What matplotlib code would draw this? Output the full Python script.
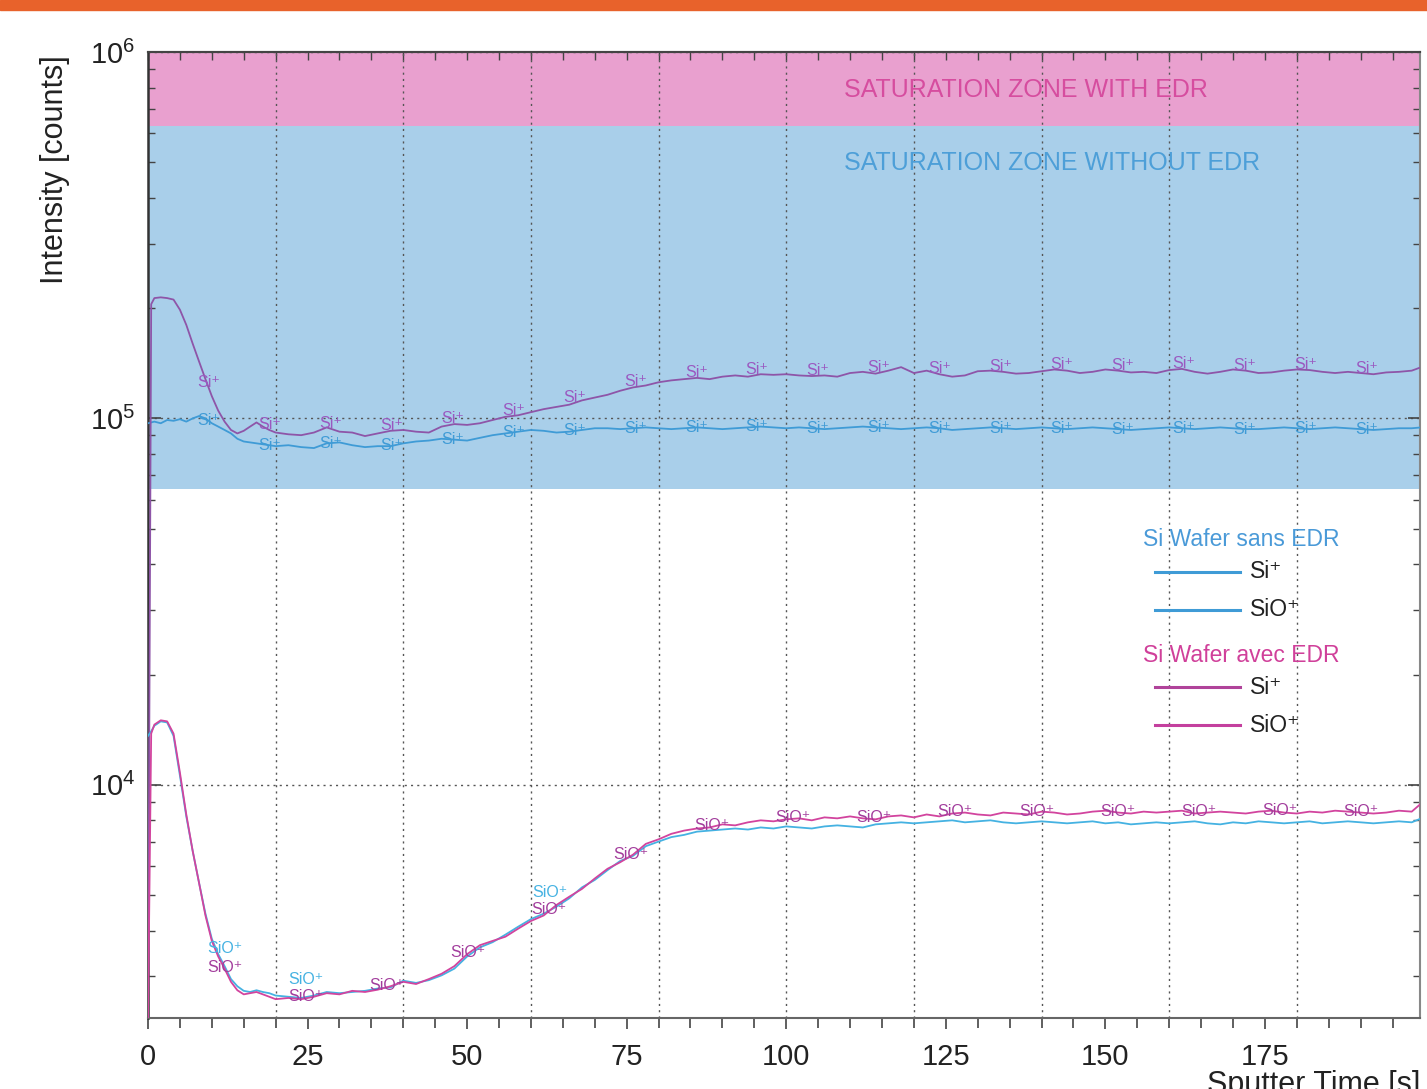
import numpy as np
import matplotlib
matplotlib.use("Agg")
import matplotlib.pyplot as plt
from matplotlib.patches import Rectangle
from matplotlib.lines import Line2D
from matplotlib.ticker import MultipleLocator, LogLocator, NullFormatter

plt.rcParams['font.family'] = ['Liberation Sans', 'DejaVu Sans']
plt.rcParams['mathtext.fontset'] = 'custom'
plt.rcParams['mathtext.rm'] = 'Liberation Sans'
plt.rcParams['mathtext.default'] = 'regular'

# ---- data -------------------------------------------------------------
# sputter time grid [s]
time_s = np.concatenate([[0, 0.5], np.arange(1, 20), np.arange(20, 199, 2), [199.5]])

# Si+ intensity, Si wafer with EDR [kcounts]
si_edr_k = [
    2.3, 205, 213, 214, 213, 211, 198, 180, 160, 143, 128, 115, 105, 98, 93, 91, 92.5, 95, 97.5, 95, 93,
    91.5, 90.5, 90, 91.5, 94.5, 92, 91.5, 89.5, 91, 92.5,
    93, 92, 91.5, 95, 96.5, 96, 97, 99, 101, 102,
    104, 106, 107.5, 109, 112, 114, 116, 119, 121.5, 123,
    125.5, 127, 128, 129, 128, 130, 131, 130, 132, 131.5,
    132, 131, 130.5, 131, 130, 133, 134, 132.5, 135, 138,
    133, 135, 132, 130, 131, 134.5, 135, 134, 132.5, 133,
    134.5, 136, 135, 133, 134, 136, 135, 133.5, 134, 133,
    135.5, 136.5, 134, 132.5, 134, 136, 135, 133, 133.5, 135,
    136, 135.5, 134, 133, 134, 133, 132, 133.5, 134, 135,
    138,
]

# Si+ intensity, Si wafer without EDR [kcounts]
si_noedr_k = [
    97, 97.5, 98, 97, 99, 98.5, 99.5, 98, 100, 101.5, 100, 97, 95, 93, 91, 88, 86.5, 86, 85.5, 85, 84.5,
    84, 84.5, 83.5, 83, 85.5, 86, 84.5, 83.5, 84, 84,
    85.5, 86.5, 87, 88, 87.5, 87, 88.5, 90, 91, 92,
    93, 92.5, 91.5, 92, 93, 94, 94, 93.5, 94, 94.5,
    94, 93.5, 94, 94.5, 94, 93.5, 94, 94.5, 95, 94.5,
    94, 94.5, 94, 93.5, 94, 94.5, 95, 94.5, 94, 93.5,
    94, 94.5, 94, 93, 93.5, 94, 94.5, 94, 93.5, 94,
    94.5, 94, 93.5, 94, 94.5, 94, 93.5, 93, 93.5, 94,
    94.5, 94, 93.5, 94, 94.5, 94, 93.5, 93.5, 94, 94.5,
    94, 93.5, 94, 94.5, 94, 93.5, 93, 93.5, 94, 94,
    94.5,
]

# SiO+ intensity, Si wafer with EDR [kcounts]
sio_edr_k = [
    2.3, 13.8, 14.6, 15.0, 14.9, 13.8, 10.8, 8.3, 6.6, 5.4, 4.4, 3.75, 3.4, 3.15, 2.9, 2.75, 2.68, 2.7, 2.72, 2.68, 2.64,
    2.6, 2.62, 2.6, 2.64, 2.7, 2.68, 2.74, 2.72, 2.76, 2.82,
    2.9, 2.86, 2.95, 3.05, 3.2, 3.45, 3.65, 3.75, 3.85, 4.05,
    4.25, 4.4, 4.7, 4.95, 5.2, 5.55, 5.9, 6.15, 6.45, 6.9,
    7.1, 7.35, 7.5, 7.6, 7.65, 7.8, 7.75, 7.9, 8.0, 7.95,
    8.05, 8.1, 8.0, 8.15, 8.1, 8.2, 8.1, 8.05, 8.2, 8.25,
    8.15, 8.3, 8.2, 8.35, 8.4, 8.3, 8.25, 8.4, 8.35, 8.3,
    8.45, 8.4, 8.3, 8.35, 8.45, 8.5, 8.4, 8.35, 8.45, 8.4,
    8.45, 8.5, 8.35, 8.4, 8.45, 8.4, 8.35, 8.45, 8.5, 8.4,
    8.35, 8.45, 8.4, 8.5, 8.45, 8.4, 8.35, 8.4, 8.5, 8.45,
    8.9,
]

# SiO+ intensity, Si wafer without EDR [kcounts]
sio_noedr_k = [
    13.6, 14.0, 14.5, 14.9, 14.8, 13.6, 10.6, 8.2, 6.6, 5.4, 4.45, 3.8, 3.45, 3.2, 2.95, 2.82, 2.74, 2.72, 2.75, 2.72, 2.7,
    2.66, 2.64, 2.62, 2.66, 2.72, 2.7, 2.72, 2.74, 2.78, 2.8,
    2.92, 2.88, 2.93, 3.02, 3.15, 3.4, 3.6, 3.72, 3.9, 4.1,
    4.3, 4.45, 4.65, 4.9, 5.25, 5.5, 5.85, 6.2, 6.4, 6.8,
    7.0, 7.2, 7.3, 7.45, 7.5, 7.55, 7.6, 7.55, 7.65, 7.6,
    7.7, 7.65, 7.6, 7.7, 7.75, 7.7, 7.65, 7.8, 7.85, 7.9,
    7.85, 7.9, 7.95, 8.0, 7.9, 7.95, 8.0, 7.9, 7.85, 7.9,
    7.95, 7.9, 7.85, 7.9, 7.95, 7.85, 7.9, 7.8, 7.85, 7.9,
    7.85, 7.9, 7.95, 7.85, 7.8, 7.9, 7.85, 7.95, 7.9, 7.85,
    7.9, 7.95, 7.85, 7.9, 7.95, 7.9, 7.85, 7.9, 7.95, 7.9,
    8.1,
]

# detector saturation limits [counts]
sat_limit_edr = 6.3e5
sat_limit_no_edr = 6.4e4

# times at which the ion names are printed along the traces [s]
si_label_times = np.arange(9.5, 195, 9.55)
sio_label_times = np.arange(12.0, 195, 12.72)
sio_noedr_label_times = [12.0, 24.7, 62.9]

x_ticks = [0, 25, 50, 75, 100, 125, 150, 175]
x_grid = [20, 40, 60, 80, 100, 120, 140, 160, 180]

# ---- colours ----------------------------------------------------------
c_pink_zone = '#e9a0cf'
c_blue_zone = '#a9cfea'
c_si_edr = '#8e55a8'
c_si_noedr = '#3f9bd6'
c_sio_edr = '#d2449e'
c_sio_noedr = '#45b2e2'
c_grid = '#555555'

W, H = 1427, 1089
fig = plt.figure(figsize=(W / 100, H / 100), dpi=100)
fig.patches.append(Rectangle((0, 1 - 10 / H), 1, 10 / H, transform=fig.transFigure,
                             color='#e8622b', zorder=10))

ax = fig.add_axes([148 / W, 1 - 1018 / H, (1420 - 148) / W, (1018 - 52) / H])
ax.set_yscale('log')
ax.set_xlim(0, 199.3)
ax.set_ylim(2310, 1e6)

# saturation zones
ax.axhspan(sat_limit_edr, 1e6, color=c_pink_zone, lw=0, zorder=0)
ax.axhspan(sat_limit_no_edr, sat_limit_edr, color=c_blue_zone, lw=0, zorder=0)
ax.text(0.547, 0.961, 'SATURATION ZONE WITH EDR', transform=ax.transAxes,
        ha='left', va='center', fontsize=18, color='#d64d9f', zorder=3)
ax.text(0.547, 0.885, 'SATURATION ZONE WITHOUT EDR', transform=ax.transAxes,
        ha='left', va='center', fontsize=18, color='#4d9fd8', zorder=3)

# grid
dots = (0, (1.5, 3))
ax.vlines(x_grid, 2310, 1e6, colors=c_grid, linestyles=dots, lw=1.0, zorder=1)
ax.yaxis.grid(True, which='major', color=c_grid, linestyle=dots, lw=1.0, zorder=1)
ax.set_axisbelow(True)

t = time_s
series = [
    (si_noedr_k, c_si_noedr, 1.3),
    (si_edr_k, c_si_edr, 1.3),
    (sio_noedr_k, c_sio_noedr, 1.3),
    (sio_edr_k, c_sio_edr, 1.3),
]
for vals, col, lw in series:
    ax.plot(t, np.asarray(vals) * 1e3, color=col, lw=lw, zorder=4)


def curve_labels(values_k, positions, text, color, dy):
    logv = np.log(np.asarray(values_k) * 1e3)
    for tp in positions:
        v = np.exp(np.interp(tp, t, logv))
        ax.annotate(text, (tp, v), xytext=(0, dy), textcoords='offset points',
                    ha='center', va='center', fontsize=11.5, color=color, zorder=5,
                    annotation_clip=False)


curve_labels(si_noedr_k, si_label_times, 'Si⁺', c_si_noedr, 0)
curve_labels(si_edr_k, si_label_times, 'Si⁺', '#9a58c0', 4)
curve_labels(sio_noedr_k, sio_noedr_label_times, 'SiO⁺', c_sio_noedr, 13)
curve_labels(sio_edr_k, sio_label_times, 'SiO⁺', '#a23c9c', 1)

# axes, ticks
ax.xaxis.set_major_locator(MultipleLocator(25))
ax.xaxis.set_minor_locator(MultipleLocator(5))
ax.set_xticks(x_ticks)
ax.tick_params(axis='x', which='both', direction='out', bottom=True, top=False,
               colors='#444444', labelcolor='#222222', labelsize=21, pad=10)
ax.tick_params(axis='x', which='major', length=8, width=1.2)
ax.tick_params(axis='x', which='minor', length=7, width=1.2)

top = ax.secondary_xaxis('top')
top.xaxis.set_major_locator(MultipleLocator(5))
top.tick_params(direction='in', length=6, width=1.0, colors='#444444', labeltop=False)
top.spines['top'].set_color('#444444')
top.spines['top'].set_linewidth(1.5)

ax.yaxis.set_major_locator(LogLocator(base=10, numticks=10))
ax.yaxis.set_minor_locator(LogLocator(base=10, subs=np.arange(2, 10), numticks=20))
ax.yaxis.set_minor_formatter(NullFormatter())
ax.tick_params(axis='y', which='both', direction='in', left=True, right=True,
               colors='#444444', labelcolor='#222222', labelsize=21, pad=9)
ax.tick_params(axis='y', which='major', length=9, width=1.2)
ax.tick_params(axis='y', which='minor', length=5, width=1.0)

for side, col, lw in [('left', '#333333', 1.8), ('bottom', '#666666', 1.5),
                      ('right', '#888888', 1.5), ('top', '#444444', 1.5)]:
    ax.spines[side].set_color(col)
    ax.spines[side].set_linewidth(lw)

fig.text(55 / W, 1 - 170 / H, 'Intensity [counts]', rotation=90, ha='center', va='center',
         fontsize=22, color='#222222')
fig.text(1420 / W, -4 / H, 'Sputter Time [s]', ha='right', va='baseline',
         fontsize=22, color='#222222')

# legend, drawn in axes coordinates
ty = lambda ypix: (1018 - ypix) / (1018 - 52)
tx = lambda xpix: (xpix - 148) / (1420 - 148)
legend_rows = [
    ('Si Wafer sans EDR', None, 540, '#4a9ad8'),
    ('Si⁺', c_si_noedr, 572, None),
    ('SiO⁺', c_si_noedr, 610, None),
    ('Si Wafer avec EDR', None, 655, '#d0409a'),
    ('Si⁺', '#b0439a', 687, None),
    ('SiO⁺', '#c4409e', 725, None),
]
for text, lcol, ypix, tcol in legend_rows:
    if lcol is None:
        ax.text(tx(1143), ty(ypix), text, transform=ax.transAxes, ha='left', va='center',
                fontsize=16.5, color=tcol, zorder=6)
    else:
        ax.add_line(Line2D([tx(1155), tx(1240)], [ty(ypix), ty(ypix)], transform=ax.transAxes,
                           color=lcol, lw=2.2, zorder=6))
        ax.text(tx(1250), ty(ypix), text, transform=ax.transAxes, ha='left', va='center',
                fontsize=16.5, color='#222222', zorder=6)

fig.savefig('out.png', dpi=100)
